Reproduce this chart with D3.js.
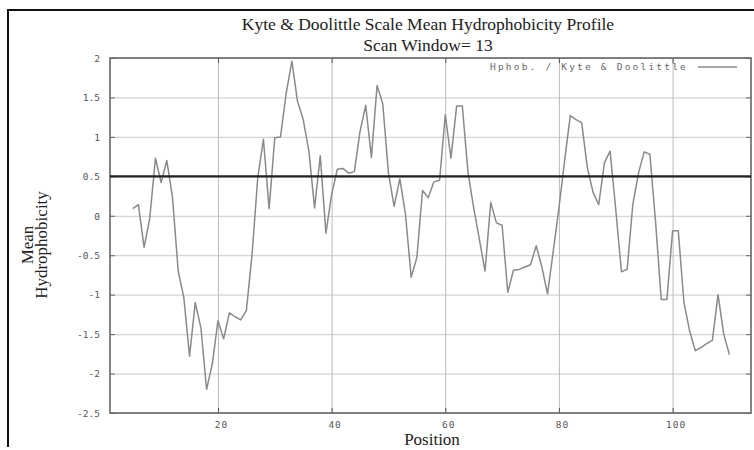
<!DOCTYPE html>
<html>
<head>
<meta charset="utf-8">
<script src="https://cdn.jsdelivr.net/npm/d3@7"></script>
<style>
  body { margin: 0; background: #fff; }
</style>
</head>
<body>
<div id="chart"></div>
<script>
// data, one value per residue position
const positions = d3.range(5, 111);
const hphob = [
  0.09, 0.14, -0.40, -0.03, 0.73, 0.42, 0.70, 0.23, -0.70, -1.04,
  -1.78, -1.10, -1.42, -2.20, -1.88, -1.33, -1.56, -1.23, -1.28, -1.32,
  -1.20, -0.49, 0.48, 0.97, 0.09, 0.99, 1.00, 1.55, 1.96, 1.45,
  1.22, 0.82, 0.10, 0.76, -0.22, 0.27, 0.59, 0.60, 0.54, 0.56,
  1.07, 1.40, 0.74, 1.65, 1.42, 0.54, 0.12, 0.47, 0.02, -0.78,
  -0.53, 0.32, 0.23, 0.43, 0.45, 1.28, 0.73, 1.39, 1.39, 0.55,
  0.10, -0.30, -0.70, 0.17, -0.09, -0.12, -0.97, -0.69, -0.68, -0.65,
  -0.62, -0.38, -0.65, -0.99, -0.45, 0.10, 0.70, 1.27, 1.22, 1.18,
  0.61, 0.30, 0.14, 0.67, 0.82, 0.08, -0.71, -0.68, 0.14, 0.54,
  0.81, 0.78, -0.07, -1.06, -1.06, -0.19, -0.19, -1.10, -1.46, -1.71,
  -1.67, -1.62, -1.58, -1.00, -1.50, -1.76
];
const threshold = 0.5;
const xTicks = [20, 40, 60, 80, 100];
const yTicks = [2, 1.5, 1, 0.5, 0, -0.5, -1, -1.5, -2, -2.5];
const xDomain = [1, 113.8];
const yDomain = [-2.5, 2];

const margin = { top: 58, right: 3, bottom: 37, left: 110 };
const width = 754 - margin.left - margin.right;
const height = 450 - margin.top - margin.bottom;

const svgRoot = d3.select("#chart")
  .append("svg")
  .attr("width", 754)
  .attr("height", 450)
  .style("background", "#fff");

// outer frame of the figure
svgRoot.append("path")
  .attr("d", "M8,447V10H754")
  .attr("fill", "none")
  .attr("stroke", "#111")
  .attr("stroke-width", 2);

const svg = svgRoot.append("g").attr("transform", `translate(${margin.left},${margin.top})`);

const x = d3.scaleLinear().domain(xDomain).range([0, width]);
const y = d3.scaleLinear().domain(yDomain).range([height, 0]);

// grid
svg.append("g")
  .call(d3.axisLeft(y).tickValues(yTicks).tickSize(-width).tickFormat(""))
  .call(g => g.select(".domain").remove())
  .selectAll("line").attr("stroke", "#d4d4d4").attr("stroke-width", 1.2);

svg.append("g")
  .attr("transform", `translate(0,${height})`)
  .call(d3.axisBottom(x).tickValues(xTicks).tickSize(-height).tickFormat(""))
  .call(g => g.select(".domain").remove())
  .selectAll("line").attr("stroke", "#bdbdbd").attr("stroke-width", 1);

// tick labels + inward ticks
const tickFont = g => g.selectAll("text")
  .attr("fill", "#555")
  .style("font-family", "'DejaVu Sans Mono', monospace")
  .style("font-size", "9.5px");

svg.append("g")
  .call(d3.axisLeft(y).tickValues(yTicks).tickSize(-5).tickPadding(10).tickFormat(d => String(d)))
  .call(g => g.select(".domain").remove())
  .call(g => g.selectAll("line").attr("stroke", "#666"))
  .call(tickFont)
  .call(g => g.selectAll("text").attr("dy", "0.35em"));

svg.append("g")
  .attr("transform", `translate(${width},0)`)
  .call(d3.axisRight(y).tickValues(yTicks).tickSize(-5).tickFormat(""))
  .call(g => g.select(".domain").remove())
  .selectAll("line").attr("stroke", "#666");

svg.append("g")
  .attr("transform", `translate(0,${height})`)
  .call(d3.axisBottom(x).tickValues(xTicks).tickSize(-5).tickPadding(8).tickFormat(d => String(d)))
  .call(g => g.select(".domain").remove())
  .call(g => g.selectAll("line").attr("stroke", "#555"))
  .call(tickFont)
  .call(g => g.selectAll("text").attr("dx", 3).style("letter-spacing", "1px"));

svg.append("g")
  .call(d3.axisTop(x).tickValues(xTicks).tickSize(-5).tickFormat(""))
  .call(g => g.select(".domain").remove())
  .selectAll("line").attr("stroke", "#555");

// plot border
svg.append("rect")
  .attr("width", width).attr("height", height)
  .attr("fill", "none")
  .attr("stroke", "#666")
  .attr("stroke-width", 1.6);

// profile line
const line = d3.line()
  .x((_, i) => x(positions[i]))
  .y(d => y(d));

svg.append("path")
  .datum(hphob)
  .attr("fill", "none")
  .attr("stroke", "#8a8a8a")
  .attr("stroke-width", 1.5)
  .attr("stroke-linejoin", "round")
  .attr("d", line);

// threshold line
svg.append("line")
  .attr("x1", 0).attr("x2", width)
  .attr("y1", y(threshold)).attr("y2", y(threshold))
  .attr("stroke", "#222")
  .attr("stroke-width", 2.2);

// legend
svg.append("text")
  .attr("x", 380).attr("y", 12)
  .attr("fill", "#666")
  .style("font-family", "'DejaVu Sans Mono', monospace")
  .style("font-size", "9.5px")
  .style("letter-spacing", "2.2px")
  .text("Hphob. / Kyte & Doolittle");

svg.append("line")
  .attr("x1", 588).attr("x2", 627)
  .attr("y1", 9).attr("y2", 9)
  .attr("stroke", "#8a8a8a")
  .attr("stroke-width", 1.4);

// titles
const serif = "'Liberation Serif', 'Times New Roman', serif";

svgRoot.append("text")
  .attr("x", 428).attr("y", 30)
  .attr("text-anchor", "middle")
  .attr("fill", "#222")
  .style("font-family", serif).style("font-size", "17.5px")
  .text("Kyte & Doolittle Scale Mean Hydrophobicity Profile");

svgRoot.append("text")
  .attr("x", 428).attr("y", 51)
  .attr("text-anchor", "middle")
  .attr("fill", "#222")
  .style("font-family", serif).style("font-size", "17.5px")
  .text("Scan Window= 13");

svgRoot.append("text")
  .attr("x", 432).attr("y", 445)
  .attr("text-anchor", "middle")
  .attr("fill", "#222")
  .style("font-family", serif).style("font-size", "17px")
  .text("Position");

svgRoot.append("text")
  .attr("transform", "translate(33,245) rotate(-90)")
  .attr("text-anchor", "middle")
  .attr("fill", "#222")
  .style("font-family", serif).style("font-size", "17px")
  .text("Mean");

svgRoot.append("text")
  .attr("transform", "translate(47,245) rotate(-90)")
  .attr("text-anchor", "middle")
  .attr("fill", "#222")
  .style("font-family", serif).style("font-size", "17px")
  .text("Hydrophobicity");
</script>
</body>
</html>
